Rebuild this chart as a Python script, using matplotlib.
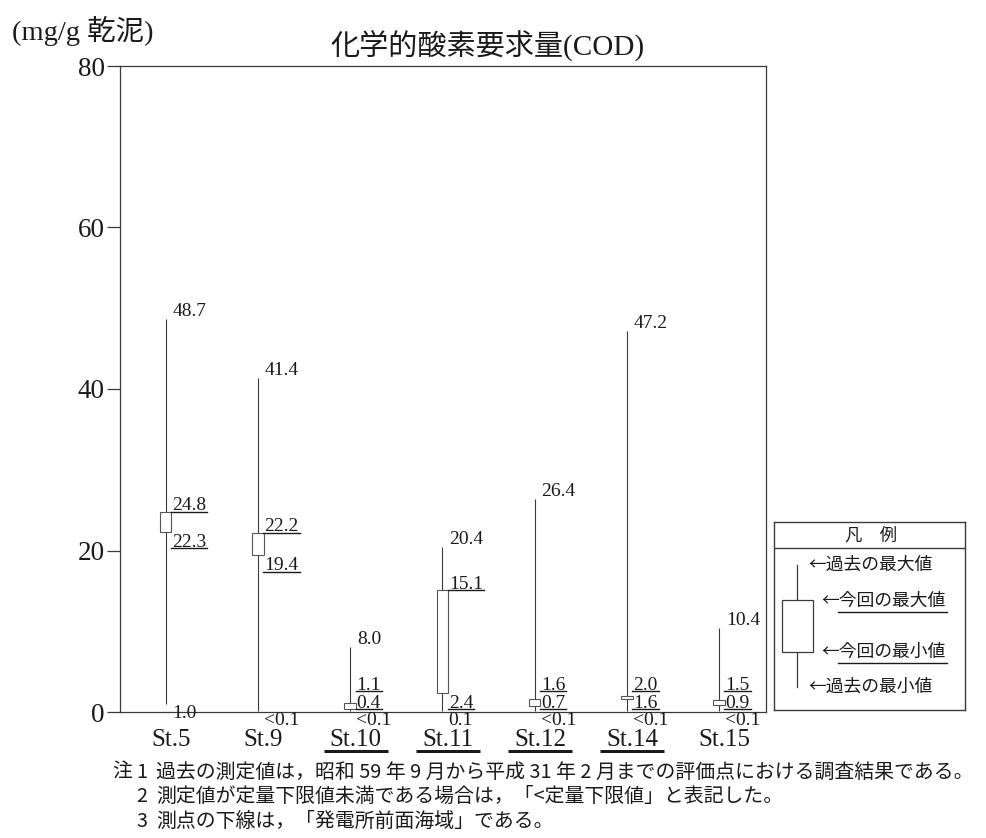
import matplotlib
matplotlib.use("Agg")
import matplotlib.pyplot as plt
import matplotlib.transforms as mtransforms
from matplotlib.patches import Rectangle
from matplotlib.lines import Line2D

# ---- data -------------------------------------------------------------
stations = ["St.5", "St.9", "St.10", "St.11", "St.12", "St.14", "St.15"]
front_sea = ["St.10", "St.11", "St.12", "St.14"]          # underlined stations
past_max = [48.7, 41.4, 8.0, 20.4, 26.4, 47.2, 10.4]
past_min = [1.0, 0.1, 0.1, 0.1, 0.1, 0.1, 0.1]
past_min_text = ["1.0", "<0.1", "<0.1", "0.1", "<0.1", "<0.1", "<0.1"]
cur_max = [24.8, 22.2, 1.1, 15.1, 1.6, 2.0, 1.5]
cur_min = [22.3, 19.4, 0.4, 2.4, 0.7, 1.6, 0.9]
y_ticks = [0, 20, 40, 60, 80]

title = "化学的酸素要求量(COD)"
unit = "(mg/g 乾泥)"
notes = [
    ("注", "1", "過去の測定値は，昭和 59 年 9 月から平成 31 年 2 月までの評価点における調査結果である。"),
    ("", "2", "測定値が定量下限値未満である場合は，「<定量下限値」と表記した。"),
    ("", "3", "測点の下線は，「発電所前面海域」である。"),
]
legend_title = "凡　例"
legend_items = ["←過去の最大値", "←今回の最大値", "←今回の最小値", "←過去の最小値"]

# ---- style ------------------------------------------------------------
SERIF = ["Liberation Serif", "Noto Sans CJK JP"]
JP = ["Noto Sans CJK JP", "DejaVu Sans"]
INK = "#1a1a1a"
LINE = "#3a3a3a"

W, H, DPI = 987, 838, 100
PT = 72.0 / DPI          # points per pixel

fig = plt.figure(figsize=(W / DPI, H / DPI), dpi=DPI)
fig.patch.set_facecolor("white")


def fx(px):
    return px / W


def fy(py):
    return 1 - py / H


ax = fig.add_axes([fx(120), fy(712), fx(766) - fx(120), fy(66) - fy(712)])
ax.set_xlim(-0.496, 6.51)
ax.set_ylim(0, 80)
for s in ax.spines.values():
    s.set_color(LINE)
    s.set_linewidth(0.9)

ax.set_yticks(y_ticks)
ax.set_yticklabels([str(t) for t in y_ticks], fontfamily=SERIF, fontsize=19.5, color=INK)
ax.tick_params(axis="y", direction="out", length=13 * PT, width=0.9, color=LINE, pad=1.5)

xs = list(range(len(stations)))
ax.set_xticks(xs)
ax.set_xticklabels(stations, fontfamily=SERIF, fontsize=18, color=INK)
ax.tick_params(axis="x", length=0, pad=16.5 * PT)
shift = mtransforms.ScaledTranslation(5.5 / DPI, 0, fig.dpi_scale_trans)
for lab in ax.get_xticklabels():
    lab.set_transform(lab.get_transform() + shift)

BOX_W = 0.125
VAL_FS = 14

underlines = []   # (text artist, offset of underline below anchor in px, station, anchor data y)

for i in xs:
    ax.vlines(i, past_min[i], past_max[i], color=LINE, lw=0.8, zorder=2)
    ax.add_patch(Rectangle((i - BOX_W / 2, cur_min[i]), BOX_W, cur_max[i] - cur_min[i],
                           facecolor="white", edgecolor="#555555", lw=0.8, zorder=3))

    # past maximum
    ax.annotate(f"{past_max[i]:.1f}", xy=(i, past_max[i]), xytext=(7 * PT, 3 * PT),
                textcoords="offset points", ha="left", va="baseline",
                fontfamily=SERIF, fontsize=VAL_FS, color=INK)
    # past minimum
    ax.annotate(past_min_text[i], xy=(i, past_min[i]), xytext=(6 * PT, -14 * PT),
                textcoords="offset points", ha="left", va="baseline",
                fontfamily=SERIF, fontsize=VAL_FS, color=INK)

    # current maximum (underlined, sitting on the box top)
    y_hi = max(cur_max[i], 2.6)
    t_hi = ax.annotate(f"{cur_max[i]:.1f}", xy=(i, y_hi), xytext=(6.5 * PT, 1.5 * PT),
                       textcoords="offset points", ha="left", va="baseline",
                       fontfamily=SERIF, fontsize=VAL_FS, color=INK)
    underlines.append((t_hi, 0.0, i, y_hi))

    # current minimum (underlined, hanging below the box bottom)
    y_lo = max(cur_min[i], 2.4)
    t_lo = ax.annotate(f"{cur_min[i]:.1f}", xy=(i, y_lo), xytext=(6.5 * PT, -15 * PT),
                       textcoords="offset points", ha="left", va="baseline",
                       fontfamily=SERIF, fontsize=VAL_FS, color=INK)
    underlines.append((t_lo, 16.5, i, y_lo))

# ---- titles -----------------------------------------------------------
fig.text(fx(487), fy(46), title, ha="center", va="center",
         fontfamily=SERIF, fontsize=21, color=INK)
fig.text(fx(12), fy(31), unit, ha="left", va="center",
         fontfamily=SERIF, fontsize=20.5, color=INK)

# ---- notes ------------------------------------------------------------
NOTE_FS = 14.3
for row, (head, num, body) in enumerate(notes):
    yy = fy(772 + row * 24.5)
    if head:
        fig.text(fx(112), yy, head, ha="left", va="center", fontfamily=JP, fontsize=NOTE_FS, color=INK)
    fig.text(fx(136), yy, num, ha="left", va="center", fontfamily=JP, fontsize=NOTE_FS, color=INK)
    fig.text(fx(156), yy, body, ha="left", va="center", fontfamily=JP, fontsize=NOTE_FS, color=INK)

# ---- legend panel -----------------------------------------------------
lg = fig.add_axes([fx(774), fy(710), fx(965) - fx(774), fy(521.7) - fy(710)])
lg.set_xlim(0, 191)
lg.set_ylim(188.3, 0)
lg.set_xticks([])
lg.set_yticks([])
for s in lg.spines.values():
    s.set_color(LINE)
    s.set_linewidth(1.0)
lg.axhline(26.6, color=LINE, lw=1.0)
lg.text(97, 13.5, legend_title, ha="center", va="center", fontfamily=JP, fontsize=12.5, color=INK)
lg.plot([22.7, 22.7], [43.3, 165], color=LINE, lw=0.9)
lg.add_patch(Rectangle((7.7, 78.3), 31, 52.3, facecolor="white", edgecolor=LINE, lw=0.9, zorder=3))
leg_pos = [(34, 43.3), (47.7, 79), (47.7, 130), (34, 165)]
for (lx, ly), txt in zip(leg_pos, legend_items):
    lg.text(lx, ly, txt, ha="left", va="center", fontfamily=JP, fontsize=12.8, color=INK)
lg.plot([64, 173], [90, 90], color=INK, lw=1.0)
lg.plot([64, 173], [141.6, 141.6], color=INK, lw=1.0)

# ---- underlines that depend on rendered text extents ------------------
fig.canvas.draw()
renderer = fig.canvas.get_renderer()
to_fig = fig.transFigure.inverted()

for art, drop, i, yv in underlines:
    bb = art.get_window_extent(renderer)
    ydisp = ax.transData.transform((i, yv))[1] - drop
    (x0, y0), (x1, y1) = to_fig.transform([(bb.x0 - 1, ydisp), (bb.x1 + 1, ydisp)])
    fig.add_artist(Line2D([x0, x1], [y0, y1], transform=fig.transFigure, color=INK, lw=1.0))

for lab in ax.get_xticklabels():
    if lab.get_text() in front_sea:
        bb = lab.get_window_extent(renderer)
        cx = (bb.x0 + bb.x1) / 2
        ydisp = bb.y0 - 0.5
        (x0, y0), (x1, y1) = to_fig.transform([(cx - 32, ydisp), (cx + 32, ydisp)])
        fig.add_artist(Line2D([x0, x1], [y0, y1], transform=fig.transFigure,
                              color=INK, lw=3 * PT, solid_capstyle="butt"))

fig.savefig("out.png", dpi=DPI, facecolor="white")
